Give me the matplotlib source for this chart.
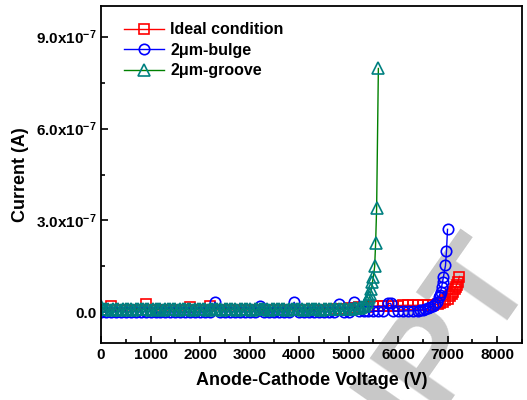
import matplotlib
matplotlib.use("Agg")
import matplotlib.pyplot as plt
from matplotlib.ticker import FixedLocator, MultipleLocator

plt.rcParams['font.family'] = ['Liberation Sans', 'DejaVu Sans']
plt.rcParams['font.weight'] = 'bold'
plt.rcParams['mathtext.fontset'] = 'custom'
plt.rcParams['mathtext.rm'] = 'Liberation Sans:bold'
plt.rcParams['mathtext.bf'] = 'Liberation Sans:bold'
plt.rcParams['mathtext.it'] = 'Liberation Sans:bold'

# ---------------- data (current in units of 1e-8 A) ----------------
green_v = [0, 50, 100, 150, 200, 250, 300, 350, 400, 450, 500, 550, 600, 650, 700, 750,
           800, 850, 900, 950, 1000, 1050, 1100, 1150, 1200, 1250, 1300, 1350, 1400, 1450,
           1500, 1550, 1600, 1650, 1700, 1750, 1800, 1850, 1900, 1950, 2000, 2050, 2100,
           2150, 2200, 2250, 2300, 2350, 2400, 2450, 2500, 2550, 2600, 2650, 2700, 2750,
           2800, 2850, 2900, 2950, 3000, 3050, 3100, 3150, 3200, 3250, 3300, 3350, 3400,
           3450, 3500, 3550, 3600, 3650, 3700, 3750, 3800, 3850, 3900, 3950, 4000, 4050,
           4100, 4150, 4200, 4250, 4300, 4350, 4400, 4450, 4500, 4550, 4600, 4650, 4700,
           4750, 4800, 4850, 4900, 4950, 5000, 5050, 5100, 5150, 5200, 5250, 5300, 5340,
           5370, 5400, 5420, 5440, 5460, 5480, 5500, 5525, 5545, 5565, 5600]
green_i = [2.0, 1.2, 1.0, 1.1, 0.9, 1.0, 1.1, 1.0, 0.9, 1.0, 1.1, 1.0, 1.0, 0.9, 1.0, 1.1,
           1.0, 1.0, 1.1, 1.0, 0.9, 1.0, 1.0, 1.1, 1.0, 0.9, 1.0, 1.0, 1.1, 1.0,
           1.0, 0.9, 1.0, 1.1, 1.0, 1.0, 1.0, 0.9, 1.0, 1.1, 1.0, 1.0, 1.0,
           0.9, 1.0, 1.1, 1.0, 1.0, 1.0, 0.9, 1.0, 1.0, 1.1, 1.0, 1.0, 0.9,
           1.0, 1.0, 1.1, 1.0, 1.0, 0.9, 1.0, 1.0, 1.1, 1.0, 1.0, 1.0, 0.9,
           1.0, 1.0, 1.1, 1.0, 1.0, 1.0, 0.9, 1.0, 1.1, 1.0, 1.0, 1.0, 1.0,
           0.9, 1.0, 1.1, 1.0, 1.0, 1.0, 1.0, 0.9, 1.0, 1.1, 1.0, 1.0, 1.0,
           1.0, 1.0, 1.1, 1.0, 1.1, 1.1, 1.2, 1.3, 1.4, 1.5, 1.7, 2.0, 2.6,
           3.3, 4.2, 5.0, 5.9, 7.5, 9.8, 11.7, 15.0, 22.8, 34.2, 79.6]

blue_v = [0, 100, 200, 300, 400, 500, 600, 700, 800, 900, 1000, 1100, 1200, 1300, 1400,
          1500, 1600, 1700, 1800, 1900, 2000, 2100, 2200, 2300, 2400, 2500, 2600, 2700,
          2800, 2900, 3000, 3100, 3200, 3300, 3400, 3500, 3600, 3700, 3800, 3900, 4000,
          4100, 4200, 4300, 4400, 4500, 4600, 4700, 4800, 4900, 5000, 5100, 5200, 5300,
          5400, 5500, 5600, 5700, 5800, 5850, 5900, 6000, 6100, 6200, 6300, 6400, 6450,
          6500, 6550, 6600, 6650, 6700, 6740, 6775, 6815, 6835, 6855, 6875, 6895, 6915,
          6955, 6975, 6996]
blue_i = [0.2, 0.2, 0.1, 0.2, 0.2, 0.1, 0.2, 0.2, 0.1, 0.2, 0.2, 0.2, 0.1, 0.2, 0.2,
          0.2, 0.1, 0.2, 0.2, 0.2, 0.1, 0.2, 0.2, 3.4, 0.2, 0.1, 0.2, 0.2,
          0.2, 0.1, 0.2, 0.2, 2.1, 0.2, 0.1, 0.2, 0.2, 0.2, 0.1, 3.3, 0.2,
          0.2, 0.1, 0.2, 0.2, 0.2, 0.1, 0.2, 2.6, 0.2, 0.2, 3.3, 0.3, 0.3,
          0.3, 0.3, 0.4, 0.4, 2.9, 2.9, 0.4, 0.4, 0.4, 0.5, 0.5, 0.6, 0.7,
          0.9, 1.1, 1.4, 1.7, 2.1, 2.8, 3.3, 4.9, 5.7, 6.5, 8.2, 9.8, 11.7,
          15.3, 19.9, 27.1]

red_v = [0, 100, 200, 300, 400, 500, 600, 700, 800, 900, 1000, 1100, 1200, 1300, 1400,
         1500, 1600, 1700, 1800, 1900, 2000, 2100, 2200, 2300, 2400, 2500, 2600, 2700,
         2800, 2900, 3000, 3100, 3200, 3300, 3400, 3500, 3600, 3700, 3800, 3900, 4000,
         4100, 4200, 4300, 4400, 4500, 4600, 4700, 4800, 4900, 5000, 5100, 5200, 5300,
         5400, 5500, 5600, 5700, 5800, 5900, 6000, 6100, 6200, 6300, 6400, 6500, 6600,
         6700, 6800, 6850, 6900, 6950, 7000, 7050, 7080, 7110, 7140, 7160, 7180, 7200,
         7238]
red_i = [0.8, 0.8, 2.1, 0.8, 0.7, 0.8, 0.8, 0.8, 0.7, 2.8, 0.8, 0.8, 0.8, 0.7, 0.8,
         0.8, 0.8, 0.7, 1.8, 0.8, 0.8, 0.8, 2.1, 0.8, 0.8, 0.7, 0.8, 0.8,
         0.8, 0.7, 0.8, 0.8, 0.8, 0.7, 0.8, 0.8, 0.8, 0.7, 0.8, 0.8, 0.8,
         0.8, 0.7, 0.8, 0.8, 0.8, 0.9, 1.0, 1.1, 1.2, 1.3, 1.5, 1.6, 1.8,
         1.9, 2.0, 2.1, 2.1, 2.2, 2.2, 2.2, 2.3, 2.3, 2.3, 2.3, 2.3, 2.4,
         2.4, 2.6, 2.9, 3.3, 3.9, 4.5, 5.2, 5.9, 6.5, 7.5, 8.2, 9.0, 9.8,
         11.7]

labels = ['Ideal condition', '2\u03bcm-bulge', '2\u03bcm-groove']
x_ticks = [0, 1000, 2000, 3000, 4000, 5000, 6000, 7000, 8000]
y_ticks = [0.0, 3.0e-7, 6.0e-7, 9.0e-7]
y_tick_labels = ['0.0', r'$\mathbf{3.0x10^{-7}}$', r'$\mathbf{6.0x10^{-7}}$', r'$\mathbf{9.0x10^{-7}}$']

scale = 1e-8

# ---------------- figure ----------------
fig = plt.figure(figsize=(5.27, 4.0), dpi=100)
ax = fig.add_axes([0.1917, 0.1425, 0.7988, 0.8425])
ax.patch.set_alpha(0)

# watermark (behind everything)
fig.text(0.845, 0.16, 'IPT', fontsize=95, color='#c8c8c8', rotation=55,
         ha='center', va='center', zorder=-5, fontweight='bold')

ax.plot(red_v, [v * scale for v in red_i], color='#ff0000', lw=1.0, marker='s', ms=6.5,
        mfc='none', mec='#ff0000', mew=1.2, label=labels[0])
ax.plot(blue_v, [v * scale for v in blue_i], color='#0000ff', lw=1.0, marker='o', ms=7.5,
        mfc='none', mec='#0000ff', mew=1.2, label=labels[1])
ax.plot(green_v, [v * scale for v in green_i], color='#008000', lw=1.0, marker='^', ms=8,
        mfc='none', mec='#008080', mew=1.2, label=labels[2])

ax.set_xlim(0, 8500)
ax.set_ylim(-1.0e-7, 1.0e-6)
ax.xaxis.set_major_locator(FixedLocator(x_ticks))
ax.xaxis.set_minor_locator(MultipleLocator(500))
ax.set_xticklabels([str(t) for t in x_ticks])
ax.yaxis.set_major_locator(FixedLocator(y_ticks))
ax.yaxis.set_minor_locator(MultipleLocator(1.5e-7))
ax.set_yticklabels(y_tick_labels)

ax.tick_params(which='both', direction='in', width=1.2, labelsize=11)
ax.tick_params(which='major', length=5)
ax.tick_params(which='minor', length=3)
for lab in ax.get_xticklabels() + ax.get_yticklabels():
    lab.set_fontweight('bold')
for s in ax.spines.values():
    s.set_linewidth(1.3)

ax.set_xlabel('Anode-Cathode Voltage (V)', fontsize=13, fontweight='bold', labelpad=7)
ax.set_ylabel('Current (A)', fontsize=13, fontweight='bold', labelpad=5)

leg = ax.legend(loc='upper left', bbox_to_anchor=(0.028, 0.985), frameon=False,
                fontsize=11.5, handlelength=2.5, handletextpad=0.4, labelspacing=0.35,
                borderaxespad=0.3)
for t in leg.get_texts():
    t.set_fontweight('bold')

fig.savefig('out.png', dpi=100)
